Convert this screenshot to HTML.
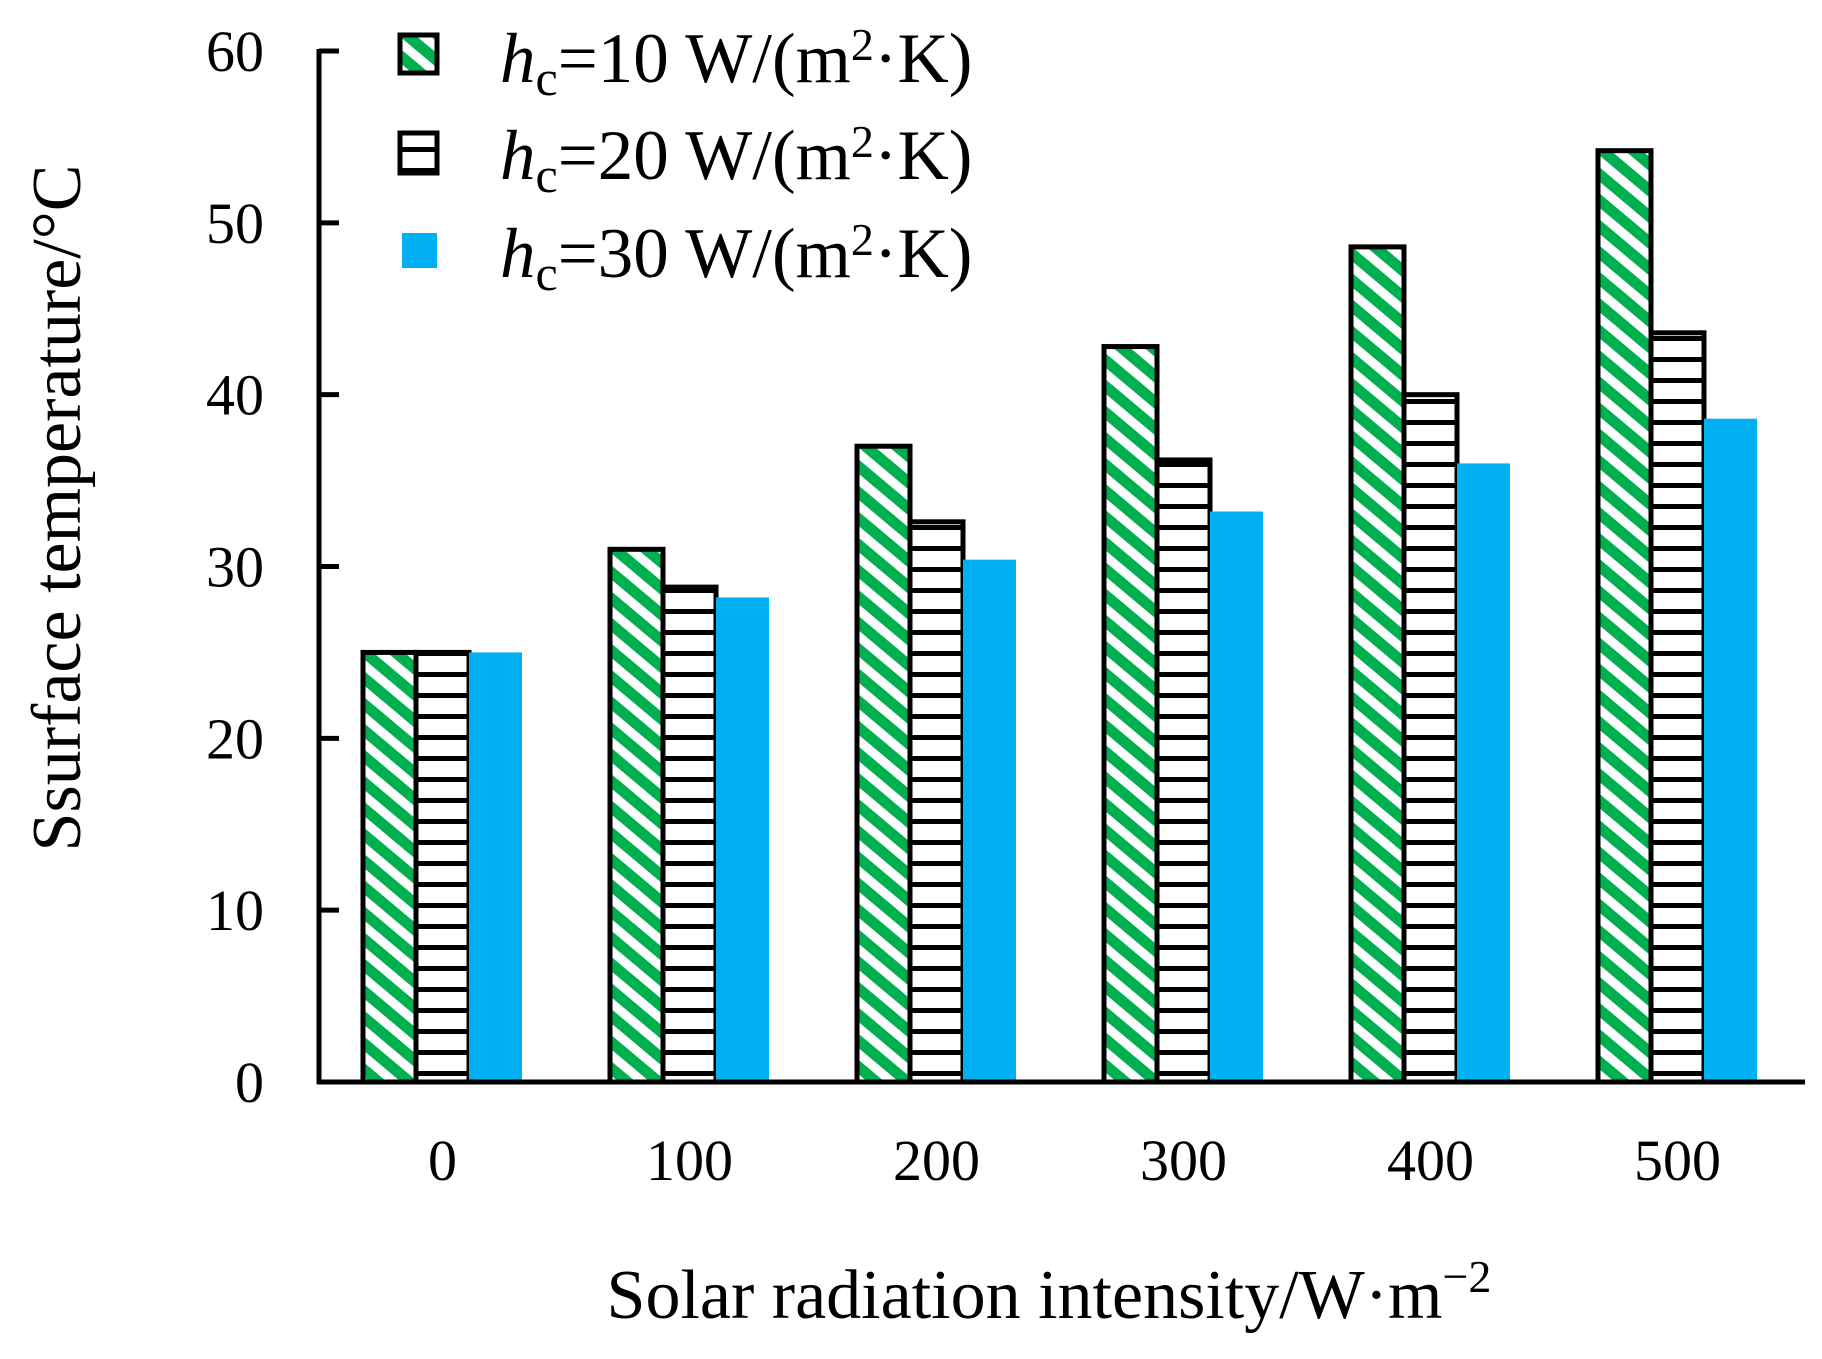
<!DOCTYPE html>
<html><head><meta charset="utf-8"><style>
html,body{margin:0;padding:0;background:#fff;}
svg{display:block;font-family:"Liberation Serif",serif;}
</style></head><body>
<svg id="chart" width="1822" height="1359" viewBox="0 0 1822 1359">
<defs>
<pattern id="pGreen" patternUnits="userSpaceOnUse" width="20" height="20" patternTransform="rotate(40)">
<rect width="20" height="20" fill="#ffffff"/><rect width="20" height="11" fill="#00b050"/>
</pattern>
<pattern id="pBlack" patternUnits="userSpaceOnUse" width="20" height="21">
<rect width="20" height="21" fill="#ffffff"/><rect y="0" width="20" height="5" fill="#000"/>
</pattern>
</defs>
<g id="bars"></g>
<g id="axes"></g>
<g>
<g>
<rect x="400" y="35" width="37" height="38" fill="url(#pGreen)" stroke="#000" stroke-width="5"/>
<text x="500" y="82" font-size="71"><tspan font-style="italic">h</tspan><tspan font-size="50" dy="13">c</tspan><tspan dy="-13">=10 W/(m</tspan><tspan font-size="46" dy="-22">2</tspan><tspan dy="22">·K)</tspan></text>
</g>
<g>
<rect x="400" y="133" width="37" height="40" fill="url(#pBlack)" stroke="#000" stroke-width="5"/>
<text x="500" y="179" font-size="71"><tspan font-style="italic">h</tspan><tspan font-size="50" dy="13">c</tspan><tspan dy="-13">=20 W/(m</tspan><tspan font-size="46" dy="-22">2</tspan><tspan dy="22">·K)</tspan></text>
</g>
<g>
<rect x="402" y="233" width="35" height="35" fill="#00b0f0"/>
<text x="500" y="277" font-size="71"><tspan font-style="italic">h</tspan><tspan font-size="50" dy="13">c</tspan><tspan dy="-13">=30 W/(m</tspan><tspan font-size="46" dy="-22">2</tspan><tspan dy="22">·K)</tspan></text>
</g>
</g>
<text x="1049" y="1318" font-size="70" text-anchor="middle">Solar radiation intensity/W·m<tspan font-size="46" dy="-26">−2</tspan></text>
<text transform="translate(80,508) rotate(-90)" font-size="70" text-anchor="middle">Ssurface temperature/°C</text>
</svg>
<script>
const categories = ["0","100","200","300","400","500"];
const hc10 = [25, 31, 37, 42.8, 48.6, 54.2];
const hc20 = [25, 28.8, 32.6, 36.2, 40, 43.6];
const hc30 = [25, 28.2, 30.4, 33.2, 36, 38.6];
const yTicks = [0,10,20,30,40,50,60];

const NS = "http://www.w3.org/2000/svg";
const X0 = 319, X1 = 1801, Y0 = 1082, Y60 = 51;
const band = (X1 - X0) / categories.length;
function yScale(v){ return Y0 - (v/60)*(Y0 - Y60); }
function xCenter(i){ return X0 + (i+0.5)*band; }
const bw = 53;
function mk(tag, attrs, parent){
  const e = document.createElementNS(NS, tag);
  for (const k in attrs) e.setAttribute(k, attrs[k]);
  parent.appendChild(e); return e;
}
const bars = document.getElementById('bars');
const axes = document.getElementById('axes');
const series = [
  {vals: hc10, fill: "url(#pGreen)", stroke: "#000", name: "hc10"},
  {vals: hc20, fill: "url(#pBlack)", stroke: "#000", name: "hc20"},
  {vals: hc30, fill: "#00b0f0", stroke: "none", name: "hc30"}
];
categories.forEach((c, i) => {
  series.forEach((s, j) => {
    const x = xCenter(i) + (j - 1.5)*bw;
    const y = yScale(s.vals[i]);
    const r = mk('rect', {x: x, y: y, width: bw, height: Y0 - y, fill: s.fill,
      stroke: s.stroke, 'stroke-width': s.stroke === 'none' ? 0 : 5}, bars);
    
    
  });
  const t = mk('text', {x: xCenter(i), y: 1180, 'font-size': 58, 'text-anchor': 'middle'}, axes);
  t.textContent = c;
  
  
});
const yl = mk('line', {x1: X0, y1: Y60 - 2, x2: X0, y2: Y0 + 2, stroke: '#000', 'stroke-width': 5}, axes);


const xl = mk('line', {x1: X0 - 2, y1: Y0, x2: X1 + 4, y2: Y0, stroke: '#000', 'stroke-width': 5}, axes);


yTicks.forEach(v => {
  const y = yScale(v);
  const tk = mk('line', {x1: X0, y1: y, x2: X0 + 20, y2: y, stroke: '#000', 'stroke-width': 5}, axes);
  
  
  const t = mk('text', {x: 264, y: y + 20, 'font-size': 58, 'text-anchor': 'end'}, axes);
  t.textContent = v;
  
  
});
</script>
</body></html>
